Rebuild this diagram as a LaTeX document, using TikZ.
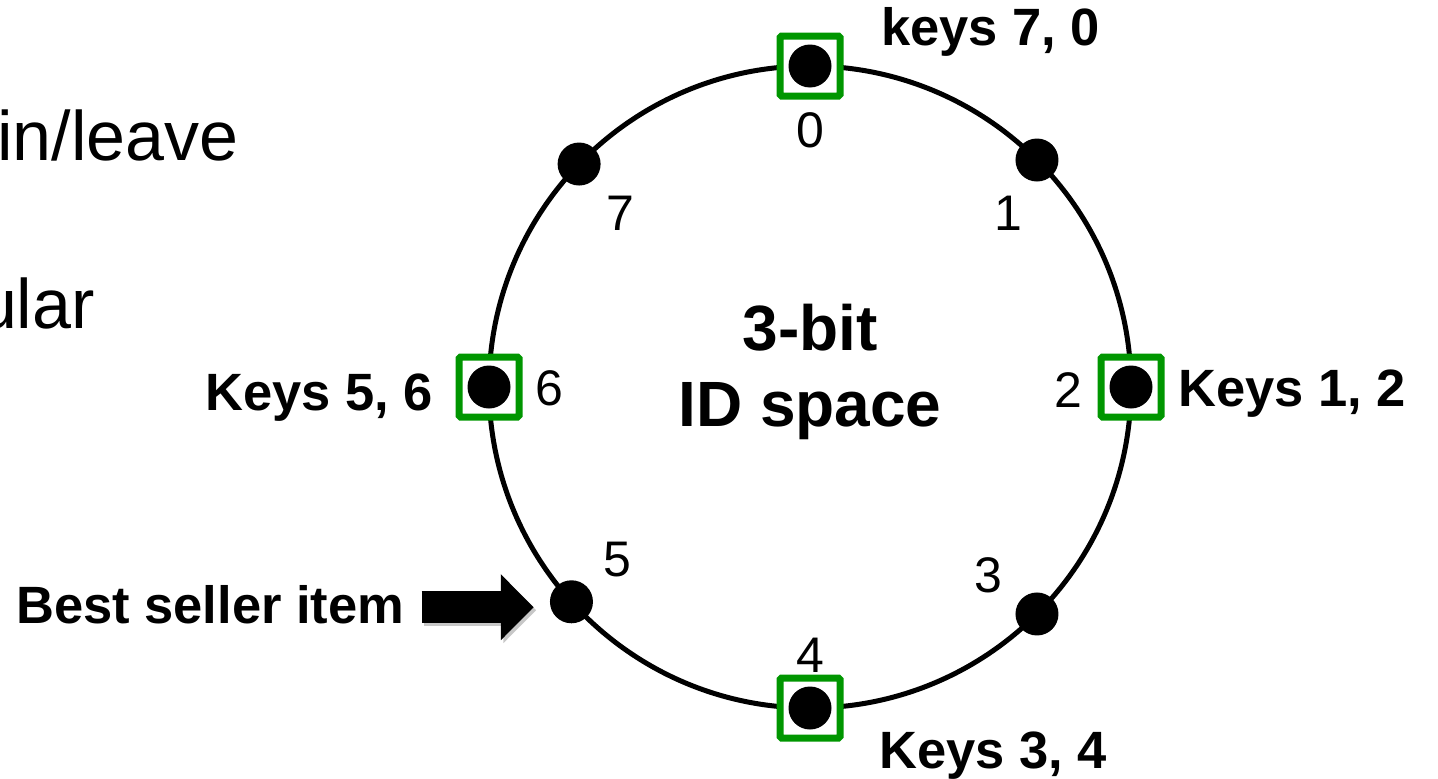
\documentclass[tikz,border=0pt]{standalone}
\usepackage{fontspec}
\setmainfont{Liberation Sans}
\usetikzlibrary{arrows.meta}
\definecolor{keygreen}{RGB}{0,150,0}
\begin{document}
\begin{tikzpicture}[x=1pt,y=-1pt,
  ring/.style={draw, circle, line width=5pt, minimum size=642pt, inner sep=0pt, outer sep=0pt},
  dot/.style={fill=black, circle, minimum size=43pt, inner sep=0pt},
  keybox/.style={draw=keygreen, fill=white, line width=7pt, minimum size=60pt, rounded corners=1.5pt, inner sep=0pt},
  idlabel/.style={font=\fontsize{50}{60}\selectfont, inner sep=0pt},
  keylabel/.style={font=\fontsize{52.5}{63}\selectfont\bfseries, inner sep=0pt},
  slidetext/.style={font=\fontsize{70}{84}\selectfont, inner sep=0pt},
  bigarrow/.style={line width=32pt, -{Triangle[length=33pt,width=64pt]}}
]
\useasboundingbox (0,0) rectangle (1438,779);
\clip (0,0) rectangle (1438,779);

% text of the slide behind the diagram
\node[slidetext, anchor=base west] (line1) at (-3,160) {in/leave};
\node[slidetext, anchor=base east] (line2) at (95,328) {ular};

% the identifier ring
\node[ring] (ring) at (810,387) {};
\foreach \i/\a in {0/90,1/45,2/0,3/-45,4/-90,5/-138,6/180,7/136.5}
  \coordinate (p\i) at (ring.\a);

% nodes that hold keys
\foreach \i in {0,2,4,6}
  \node[keybox] (b\i) at (p\i) {};

% positions on the ring
\foreach \i in {0,...,7}
  \node[dot] (n\i) at (p\i) {};

% identifiers
\node[idlabel] (l0) at (810,130) {0};
\node[idlabel] (l1) at (1008,213) {1};
\node[idlabel] (l2) at (1068,390) {2};
\node[idlabel] (l3) at (988,575) {3};
\node[idlabel] (l4) at (810,655) {4};
\node[idlabel] (l5) at (617,560) {5};
\node[idlabel] (l6) at (549,388) {6};
\node[idlabel] (l7) at (620,213) {7};

% key ranges
\node[keylabel, anchor=base west] (k0) at (881,45) {keys 7, 0};
\node[keylabel, anchor=base west] (k2) at (1178,406) {Keys 1, 2};
\node[keylabel, anchor=base west] (k4) at (879,768) {Keys 3, 4};
\node[keylabel, anchor=base east] (k6) at (433,410) {Keys 5, 6};

% centre caption
\node[font=\fontsize{64}{76}\selectfont\bfseries, align=center, inner sep=0pt] (idspace) at (810,372) {3-bit\\ID space};

% pointer to the popular item
\node[keylabel, anchor=base west] (best) at (16,623) {Best seller item};
\coordinate (arrowtail) at ([xshift=17pt,yshift=-3pt]best.east);
\coordinate (arrowend) at (arrowtail -| n5.west);
\draw[bigarrow, black, opacity=0.22] ([xshift=2.5pt,yshift=-3pt]arrowtail) -- ([xshift=-13.5pt,yshift=-3pt]arrowend);
\draw[bigarrow] (arrowtail) -- ([xshift=-16pt]arrowend);
\end{tikzpicture}
\end{document}
